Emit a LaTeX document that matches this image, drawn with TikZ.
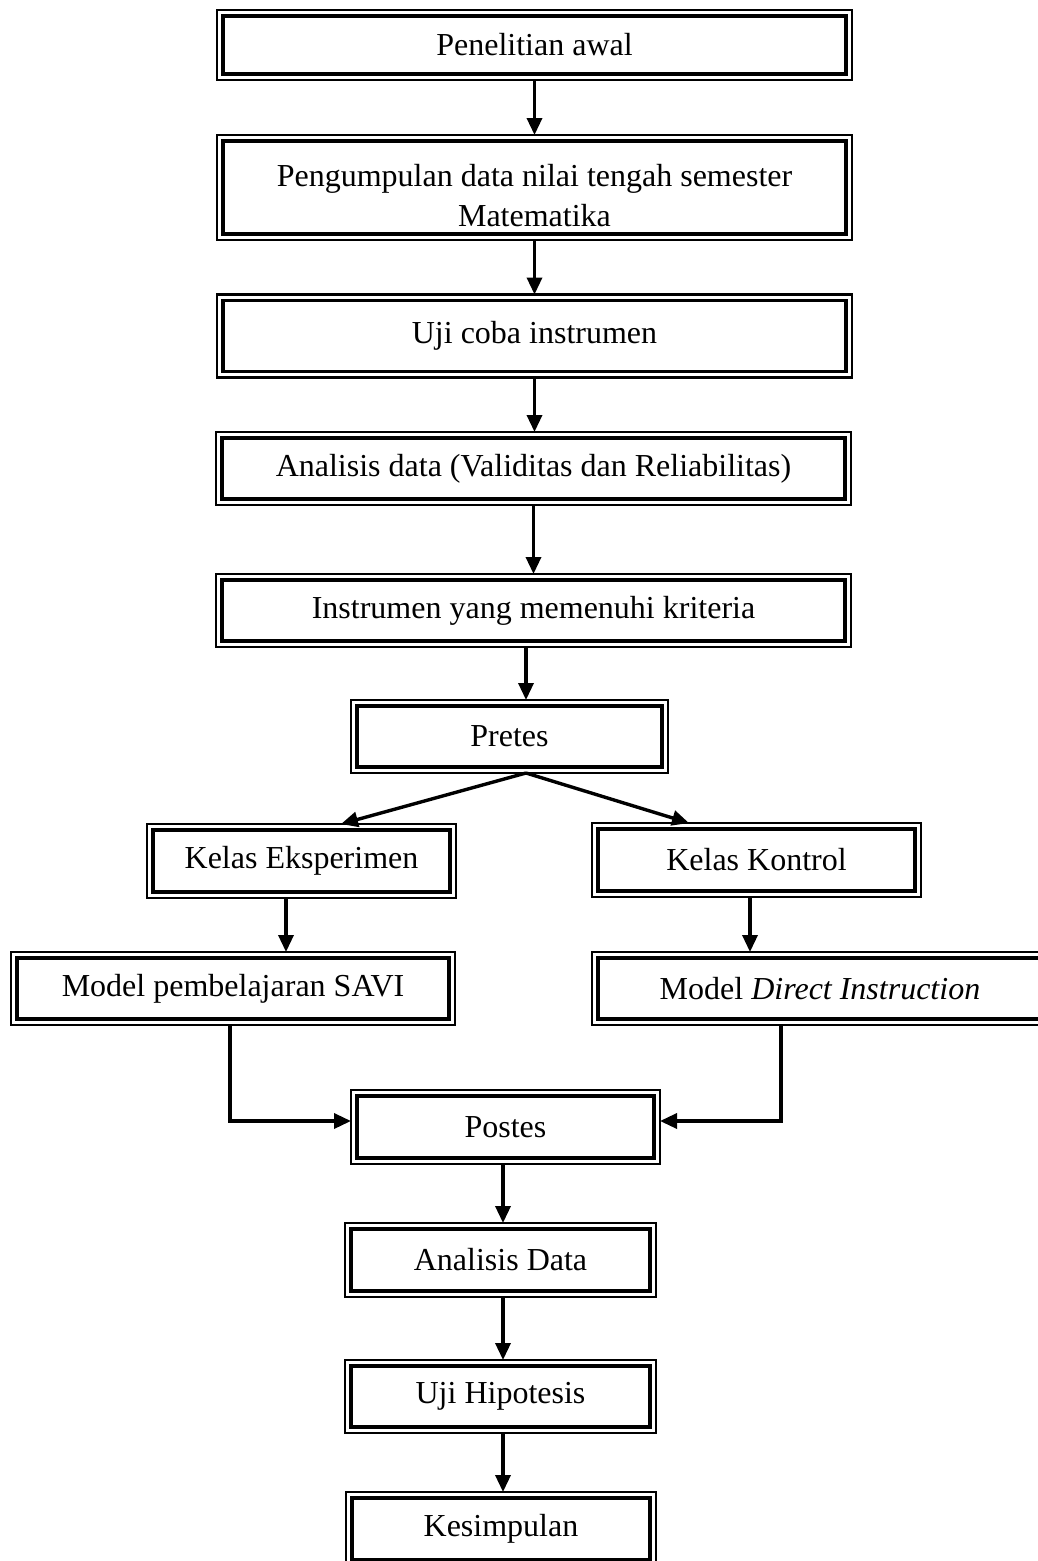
\documentclass[tikz,border=0pt]{standalone}
\usepackage{fontspec}
\setmainfont{Liberation Serif}
\usetikzlibrary{arrows.meta,calc}
\begin{document}
\begin{tikzpicture}[x=1pt,y=-1pt,
  box/.style={draw, line width=2.2pt, outer sep=0pt, inner sep=0pt, align=center,
              font=\fontsize{32}{40}\selectfont},
  innerframe/.style={line width=3.2pt},
  arr/.style={line width=3.4pt, -{Triangle[length=17pt,width=15pt]}},
]
\useasboundingbox (0,0) rectangle (1038,1561);
\begin{scope}
\clip (0,0) rectangle (1038,1561);
\node[box, minimum width=635pt, minimum height=70pt]  (n1)  at (534.5,45)    {Penelitian awal};
\node[box, minimum width=635pt, minimum height=105pt] (n2)  at (534.5,187.5) {\rule{0pt}{38pt}Pengumpulan data nilai tengah semester\\Matematika};
\node[box, minimum width=635pt, minimum height=83pt]  (n3)  at (534.5,336)   {Uji coba instrumen};
\node[box, minimum width=635pt, minimum height=73pt]  (n4)  at (533.5,468.5) {Analisis data (Validitas dan Reliabilitas)};
\node[box, minimum width=635pt, minimum height=73pt]  (n5)  at (533.5,610.5) {Instrumen yang memenuhi kriteria};
\node[box, minimum width=317pt, minimum height=73pt]  (n6)  at (509.5,736.5) {Pretes};
\node[box, minimum width=309pt, minimum height=74pt]  (n7)  at (301.5,861)   {Kelas Eksperimen};
\node[box, minimum width=329pt, minimum height=74pt]  (n8)  at (756.5,860)   {Kelas Kontrol};
\node[box, minimum width=444pt, minimum height=73pt]  (n9)  at (233,988.5)   {Model pembelajaran SAVI};
\node[box, minimum width=456pt, minimum height=73pt]  (n10) at (820,988.5)   {Model \textit{Direct Instruction}};
\node[box, minimum width=309pt, minimum height=74pt]  (n11) at (505.5,1127)  {Postes};
\node[box, minimum width=311pt, minimum height=74pt]  (n12) at (500.5,1260)  {Analisis Data};
\node[box, minimum width=311pt, minimum height=73pt]  (n13) at (500.5,1396.5) {Uji Hipotesis};
\node[box, minimum width=310pt, minimum height=74pt]  (n14) at (501,1529)    {Kesimpulan};
\foreach \n in {n1,n2,n3,n4,n5,n6,n7,n8,n9,n10,n11,n12,n13,n14}
  \draw[innerframe] ([xshift=6pt,yshift=-6pt]\n.north west) rectangle ([xshift=-6pt,yshift=6pt]\n.south east);
% arrows
\draw[arr] (n1.south) -- (n2.north);
\draw[arr] (n2.south) -- (n3.north);
\draw[arr] (n3.south) -- (n3.south |- n4.north);
\draw[arr] (n4.south) -- (n5.north);
\draw[arr] ([xshift=16.5pt]n6.north |- n5.south) -- ([xshift=16.5pt]n6.north);
\coordinate (split) at ([xshift=16.5pt]n6.south);
\draw[arr] (split) -- ([xshift=39.5pt]n7.north);
\draw[arr] (split) -- ([xshift=-67.5pt]n8.north);
\draw[arr] ([xshift=-15.5pt]n7.south) -- ([xshift=-15.5pt]n7.south |- n9.north);
\draw[arr] ([xshift=-6.5pt]n8.south) -- ([xshift=-6.5pt]n8.south |- n10.north);
\draw[arr] ([xshift=-3pt]n9.south) |- ([yshift=6pt]n11.west);
\draw[arr] ([xshift=-39pt]n10.south) |- ([yshift=6pt]n11.east);
\draw[arr] ([xshift=-2.5pt]n11.south) -- ([xshift=-2.5pt]n11.south |- n12.north);
\draw[arr] ([xshift=2.5pt]n12.south) -- ([xshift=2.5pt]n12.south |- n13.north);
\draw[arr] ([xshift=2.5pt]n13.south) -- ([xshift=2.5pt]n13.south |- n14.north);
\end{scope}
\end{tikzpicture}
\end{document}
